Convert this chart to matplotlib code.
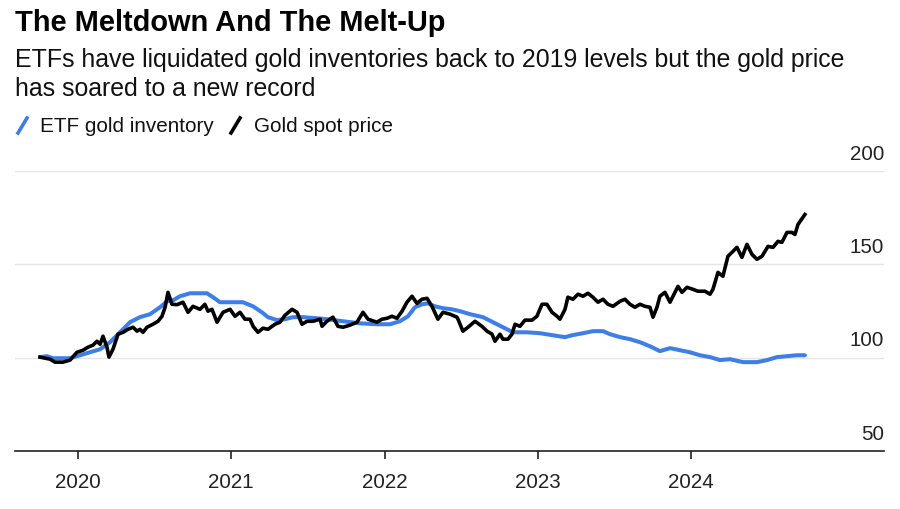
import numpy as np
import matplotlib
matplotlib.use("Agg")
import matplotlib.pyplot as plt
from matplotlib.lines import Line2D

plt.rcParams['font.family'] = ['Liberation Sans', 'DejaVu Sans']

# %% data (decimal year, index value)
gold_t = [2019.752, 2019.817, 2019.850, 2019.902, 2019.948, 2019.993, 2020.033, 2020.065,
          2020.098, 2020.124, 2020.144, 2020.163, 2020.189, 2020.202, 2020.228, 2020.261,
          2020.294, 2020.326, 2020.359, 2020.385, 2020.404, 2020.424, 2020.450, 2020.489,
          2020.522, 2020.548, 2020.568, 2020.587, 2020.613, 2020.646, 2020.685, 2020.718,
          2020.750, 2020.796, 2020.828, 2020.848, 2020.874, 2020.907, 2020.946, 2020.992,
          2021.024, 2021.057, 2021.089, 2021.122, 2021.142, 2021.174, 2021.207, 2021.239,
          2021.285, 2021.318, 2021.350, 2021.396, 2021.429, 2021.461, 2021.494, 2021.533,
          2021.579, 2021.592, 2021.624, 2021.663, 2021.696, 2021.729, 2021.774, 2021.820,
          2021.859, 2021.892, 2021.950, 2021.983, 2022.016, 2022.048, 2022.081, 2022.114,
          2022.146, 2022.179, 2022.211, 2022.244, 2022.277, 2022.309, 2022.348, 2022.381,
          2022.427, 2022.472, 2022.479, 2022.511, 2022.544, 2022.590, 2022.635, 2022.668,
          2022.701, 2022.720, 2022.753, 2022.772, 2022.805, 2022.831, 2022.851, 2022.883,
          2022.916, 2022.962, 2022.994, 2023.027, 2023.059, 2023.092, 2023.125, 2023.144,
          2023.177, 2023.196, 2023.229, 2023.262, 2023.294, 2023.327, 2023.359, 2023.392,
          2023.425, 2023.457, 2023.490, 2023.536, 2023.568, 2023.601, 2023.633, 2023.666,
          2023.699, 2023.731, 2023.751, 2023.777, 2023.796, 2023.829, 2023.862, 2023.894,
          2023.914, 2023.940, 2023.973, 2024.012, 2024.044, 2024.090, 2024.123, 2024.142,
          2024.175, 2024.207, 2024.240, 2024.266, 2024.299, 2024.331, 2024.364, 2024.397,
          2024.429, 2024.462, 2024.501, 2024.534, 2024.566, 2024.592, 2024.625, 2024.658,
          2024.677, 2024.697, 2024.742]
gold_v = [100.3, 99.2, 97.6, 97.6, 98.7, 102.9, 104.0, 105.6,
          106.7, 108.8, 107.2, 111.5, 105.6, 100.3, 104.5, 112.6,
          113.6, 115.2, 116.3, 114.2, 115.2, 113.6, 116.3, 117.9,
          119.5, 122.2, 127.0, 135.0, 128.6, 128.4, 129.7, 124.3,
          127.5, 125.9, 128.6, 124.9, 125.9, 119.0, 124.3, 125.9,
          122.2, 124.3, 120.6, 120.6, 116.8, 113.6, 115.8, 115.2,
          117.9, 119.0, 122.7, 125.9, 124.3, 117.9, 119.5, 119.5,
          120.6, 116.8, 119.5, 121.7, 116.8, 116.3, 117.4, 119.0,
          124.3, 120.6, 119.0, 120.6, 121.1, 122.2, 121.1, 124.9,
          129.7, 132.9, 129.1, 131.3, 131.8, 127.5, 120.6, 124.3,
          123.3, 121.7, 120.6, 114.2, 116.3, 119.5, 116.8, 114.2,
          112.6, 108.8, 112.6, 109.9, 109.9, 112.6, 117.9, 116.8,
          120.1, 120.1, 122.2, 128.6, 128.6, 124.3, 122.2, 120.6,
          125.9, 132.4, 131.3, 134.0, 132.9, 134.5, 132.4, 129.7,
          131.3, 128.6, 127.5, 130.2, 131.3, 128.6, 127.0, 128.6,
          127.5, 127.0, 121.7, 127.0, 132.9, 135.0, 129.7, 135.0,
          138.2, 135.0, 137.7, 136.6, 135.6, 135.6, 134.0, 136.6,
          145.7, 143.6, 154.3, 156.4, 159.1, 153.7, 160.7, 155.3,
          152.7, 154.3, 159.6, 159.1, 162.3, 161.8, 167.1, 167.1,
          166.0, 171.4, 176.7]

etf_t = [2019.752, 2019.798, 2019.837, 2019.883, 2019.948, 2020.013, 2020.078, 2020.144,
         2020.209, 2020.274, 2020.339, 2020.404, 2020.470, 2020.535, 2020.581, 2020.620,
         2020.665, 2020.731, 2020.841, 2020.881, 2020.926, 2020.992, 2021.076, 2021.142,
         2021.200, 2021.239, 2021.298, 2021.350, 2021.402, 2021.468, 2021.559, 2021.624,
         2021.729, 2021.840, 2021.950, 2022.035, 2022.100, 2022.153, 2022.198, 2022.244,
         2022.283, 2022.329, 2022.381, 2022.440, 2022.492, 2022.557, 2022.642, 2022.707,
         2022.772, 2022.838, 2022.929, 2023.014, 2023.098, 2023.177, 2023.222, 2023.294,
         2023.359, 2023.425, 2023.470, 2023.536, 2023.601, 2023.666, 2023.731, 2023.796,
         2023.862, 2023.927, 2023.992, 2024.057, 2024.123, 2024.188, 2024.253, 2024.338,
         2024.429, 2024.495, 2024.560, 2024.625, 2024.690, 2024.742]
etf_v = [100.3, 100.8, 99.7, 99.7, 99.7, 101.3, 102.9, 104.5,
         108.3, 113.6, 119.0, 121.7, 123.3, 127.0, 130.2, 130.7,
         132.9, 134.5, 134.5, 132.4, 129.7, 129.7, 129.7, 127.5,
         124.3, 121.7, 120.1, 120.6, 121.7, 121.7, 121.1, 120.6,
         119.5, 118.4, 117.9, 117.9, 119.5, 122.2, 127.0, 128.6,
         129.1, 127.5, 126.5, 125.9, 124.9, 123.3, 121.7, 119.0,
         116.3, 113.6, 113.6, 113.1, 112.0, 111.0, 112.0, 113.1,
         114.2, 114.2, 112.6, 111.0, 109.9, 108.3, 106.1, 103.5,
         105.1, 104.0, 102.9, 101.3, 100.3, 98.7, 99.2, 97.6,
         97.6, 98.7, 100.3, 100.8, 101.3, 101.3]

years = [2020, 2021, 2022, 2023, 2024]
y_ticks = [50, 100, 150, 200]

BLUE = '#3d7ee9'

# %%
fig = plt.figure(figsize=(9, 5.1), dpi=100)
ax = fig.add_axes([15 / 900, 1 - 452 / 510, 869 / 900, 280 / 510])

ax.plot(etf_t, etf_v, color=BLUE, lw=2.9, solid_capstyle='round', zorder=3)
ax.plot(gold_t, gold_v, color='black', lw=2.6, solid_joinstyle='round', zorder=4)

ax.set_xlim(2019.589, 2025.258)
ax.set_ylim(50, 200)

for s in ['top', 'right', 'left']:
    ax.spines[s].set_visible(False)
ax.spines['bottom'].set_color('#222222')
ax.spines['bottom'].set_linewidth(1.2)

ax.set_yticks(y_ticks)
ax.yaxis.grid(True, color='#e5e5e5', lw=1)
ax.tick_params(axis='y', length=0, labelleft=False)
ax.set_axisbelow(True)
for v in y_ticks:
    ax.annotate(str(v), xy=(1, v), xycoords=('axes fraction', 'data'),
                xytext=(0, 6), textcoords='offset points',
                ha='right', va='bottom', fontsize=14.8, color='#222222')

ax.set_xticks(years)
ax.set_xticklabels([str(y) for y in years])
ax.tick_params(axis='x', length=6, width=1.2, color='#222222',
               labelsize=14.8, labelcolor='#222222', pad=9)

# titles
fig.text(15 / 900, 1 - 31 / 510, 'The Meltdown And The Melt-Up',
         fontsize=20.9, fontweight='bold', va='baseline', color='black')
fig.text(15 / 900, 1 - 67 / 510,
         'ETFs have liquidated gold inventories back to 2019 levels but the gold price',
         fontsize=17.9, va='baseline', color='#111111')
fig.text(15 / 900, 1 - 96 / 510, 'has soared to a new record',
         fontsize=17.9, va='baseline', color='#111111')

# legend
for x0, col, label, xt in [(18, BLUE, 'ETF gold inventory', 40),
                           (231, 'black', 'Gold spot price', 254)]:
    fig.add_artist(Line2D([x0 / 900, (x0 + 9) / 900], [1 - 134 / 510, 1 - 119 / 510],
                          color=col, lw=2.6, transform=fig.transFigure))
    fig.text(xt / 900, 1 - 127 / 510, label, fontsize=14.9, va='center', color='#111111')

fig.savefig('out.png', dpi=100, facecolor='white')
